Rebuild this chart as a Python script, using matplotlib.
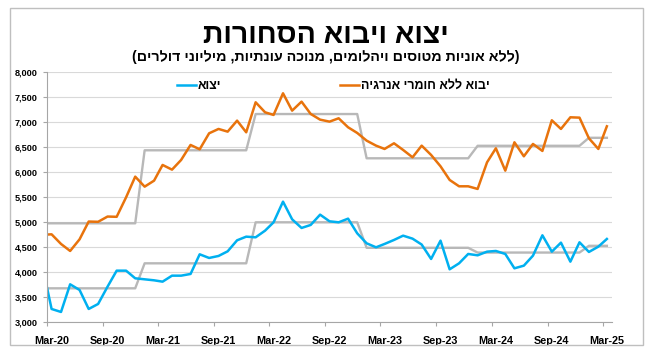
import numpy as np
import pandas as pd
import matplotlib
matplotlib.use('Agg')
import matplotlib.pyplot as plt
import matplotlib.dates as mdates
from matplotlib.patches import Rectangle
from matplotlib.transforms import ScaledTranslation

plt.rcParams['font.family'] = ['Liberation Sans', 'DejaVu Sans']

# נתונים חודשיים (אמצע חודש), פברואר 2020 עד מרץ 2025
months = pd.date_range('2020-02-01', periods=62, freq='MS') + pd.Timedelta(days=14)

exports = [4090,
           3267, 3207, 3760, 3647, 3267, 3367, 3713, 4033, 4033, 3880,
           3860, 3840, 3813, 3933, 3933, 3967, 4360, 4287, 4327, 4420, 4640, 4713,
           4700, 4833, 5000, 5413, 5060, 4887, 4947, 5153, 5020, 5000, 5073, 4780,
           4580, 4500, 4567, 4647, 4733, 4673, 4555, 4267, 4633, 4060, 4180, 4367,
           4340, 4413, 4427, 4367, 4080, 4133, 4333, 4740, 4413, 4593, 4213, 4600,
           4407, 4513, 4667]

imports = [4750,
           4760, 4567, 4427, 4660, 5015, 5010, 5115, 5110, 5500, 5913,
           5713, 5833, 6147, 6053, 6247, 6547, 6460, 6780, 6867, 6813, 7033, 6800,
           7400, 7200, 7147, 7580, 7233, 7413, 7167, 7053, 7013, 7080, 6900, 6787,
           6633, 6533, 6467, 6580, 6447, 6300, 6533, 6347, 6120, 5847, 5720, 5720,
           5667, 6200, 6480, 6033, 6600, 6320, 6567, 6427, 7040, 6867, 7100, 7093,
           6680, 6467, 6920]

# ממוצעים שנתיים (קו אפור)
years = [2020, 2021, 2022, 2023, 2024, 2025]
months_in_year = [11, 12, 12, 12, 12, 3]
exports_avg = [3680, 4180, 5000, 4490, 4395, 4530]
imports_avg = [4980, 6440, 7165, 6280, 6530, 6690]

title = 'יצוא ויבוא הסחורות'
subtitle = '(ללא אוניות מטוסים ויהלומים, מנוכה עונתיות, מיליוני דולרים)'
label_exp = 'יצוא'
label_imp = 'יבוא ללא חומרי אנרגיה'


def rtl(s):
    # matplotlib לא מטפל בכיווניות - הופכים את הסדר ומחליפים סוגריים
    s = s[::-1]
    return s.translate(str.maketrans('()', ')('))


blue = '#00B0F0'
orange = '#E8730C'
gray = '#B8B8B8'

fig = plt.figure(figsize=(6.52, 3.54), dpi=100)
ax = fig.add_axes([0.0726, 0.0895, 0.8661, 0.7063])

ax.plot(months, np.repeat(exports_avg, months_in_year), color=gray, lw=1.7)
ax.plot(months, np.repeat(imports_avg, months_in_year), color=gray, lw=1.7)
l1, = ax.plot(months, exports, color=blue, lw=1.8)
l2, = ax.plot(months, imports, color=orange, lw=1.8)

ax.set_xlim(pd.Timestamp('2020-03-01'), pd.Timestamp('2025-04-01'))
ax.set_ylim(3000, 8000)
ax.set_yticks(np.arange(3000, 8001, 500))
ax.yaxis.set_major_formatter(matplotlib.ticker.FuncFormatter(lambda v, p: f'{v:,.0f}'))
ax.xaxis.set_major_locator(mdates.MonthLocator(bymonth=[3, 9]))
ax.xaxis.set_major_formatter(mdates.DateFormatter('%b-%y'))

ax.grid(axis='y', color='#D9D9D9', lw=0.8)
ax.set_axisbelow(True)
for s in ['top', 'right']:
    ax.spines[s].set_visible(False)
for s in ['left', 'bottom']:
    ax.spines[s].set_color('#A6A6A6')
    ax.spines[s].set_linewidth(0.8)
ax.tick_params(axis='y', length=3, color='#A6A6A6', pad=4, labelsize=6.6)
ax.tick_params(axis='x', length=3, color='#A6A6A6', pad=7, labelsize=7.8)
for lab in ax.get_xticklabels() + ax.get_yticklabels():
    lab.set_fontweight('bold')
for lab in ax.get_xticklabels():
    lab.set_transform(lab.get_transform() + ScaledTranslation(4 / 100, 0, fig.dpi_scale_trans))

fig.text(0.5, 1 - 36 / 354, rtl(title), ha='center', va='center',
         fontsize=20.5, fontweight='bold')
fig.text(0.5, 1 - 57 / 354, rtl(subtitle), ha='center', va='center',
         fontsize=10.3, fontweight='bold')

leg1 = fig.legend([l1], [rtl(label_exp)], loc='center left',
                  bbox_to_anchor=(177 / 652, 1 - 86 / 354), frameon=False,
                  borderpad=0, borderaxespad=0, handlelength=1.5, handletextpad=0.15,
                  prop={'size': 9, 'weight': 'bold'})
leg2 = fig.legend([l2], [rtl(label_imp)], loc='center left',
                  bbox_to_anchor=(340 / 652, 1 - 86 / 354), frameon=False,
                  borderpad=0, borderaxespad=0, handlelength=1.5, handletextpad=0.15,
                  prop={'size': 9, 'weight': 'bold'})

fig.patches.append(Rectangle((10 / 652, 1 - 345 / 354), 633 / 652, 337 / 354,
                             transform=fig.transFigure, fill=False,
                             edgecolor='#BFBFBF', lw=1))

fig.savefig('out.png', dpi=100)
